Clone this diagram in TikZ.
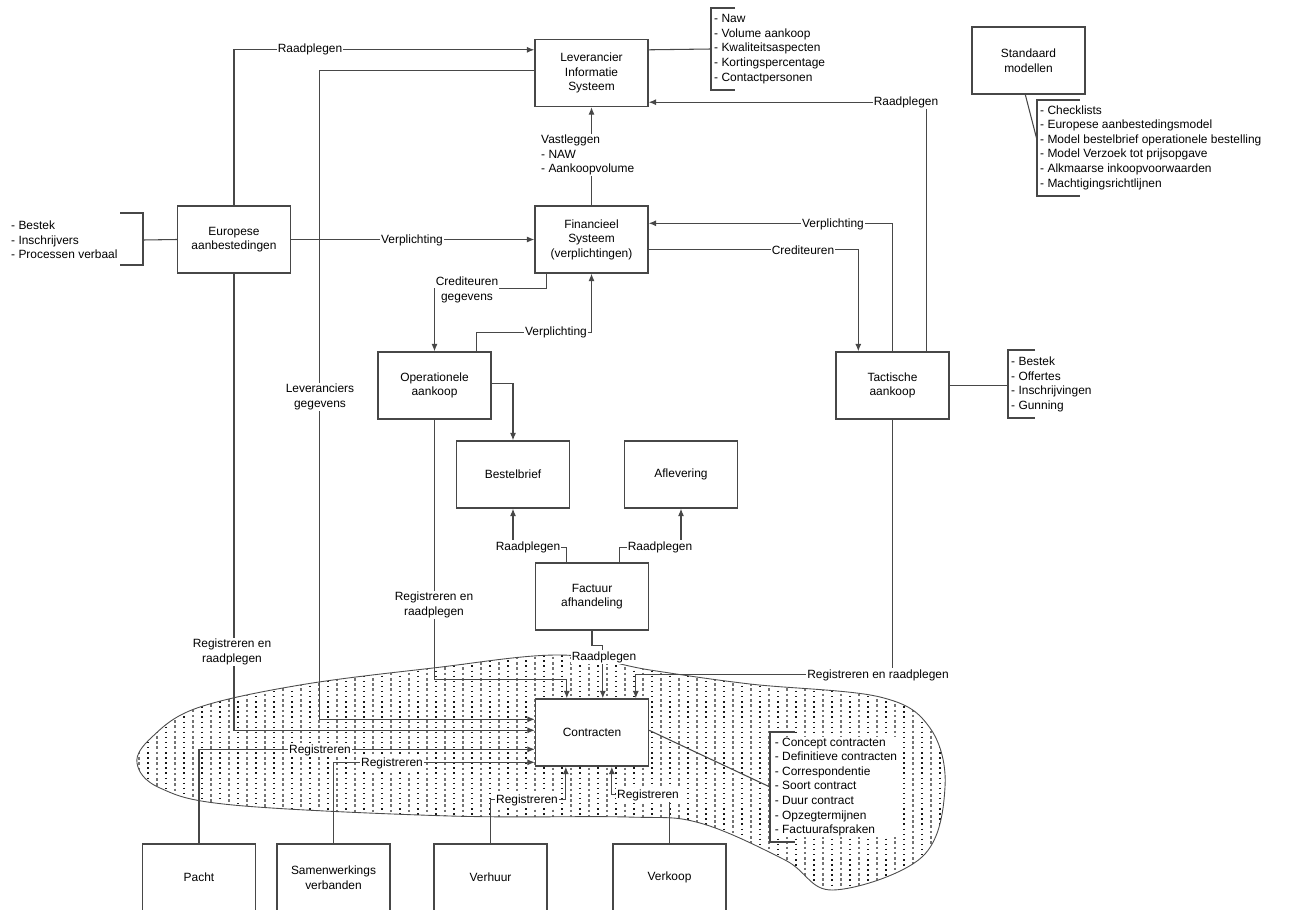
\documentclass[tikz,border=0pt]{standalone}
\usepackage{fontspec}
\setmainfont{Liberation Sans}
\usetikzlibrary{arrows.meta,calc}
\begin{document}
\begin{tikzpicture}[x=0.02cm,y=-0.02cm,
  font=\fontsize{6.8}{8.3}\selectfont,
  ln/.style={draw=black!72,line width=0.6pt},
  arr/.style={ln,-{Latex[length=4.2pt,width=3.4pt]}},
  box/.style={draw=black!72,line width=0.8pt,fill=white,minimum width=2.26cm,
    minimum height=1.34cm,align=center,inner sep=1pt},
  lab/.style={fill=white,inner sep=0.6pt,align=center},
  lst/.style={anchor=west,align=left,inner sep=0.5pt},
  brk/.style={draw=black!72,line width=0.7pt},
  dotcol/.style={black!90,line width=0.8pt,dash pattern=on 0.8pt off 2.1pt},
  markcol/.style={black!55,line width=0.6pt,dash pattern=on 1.5pt off 1.5pt}]
\useasboundingbox (0,0) rectangle (1290,909);

% hatched area round the contract register
\begin{scope}
  \clip plot[smooth cycle,tension=0.6] coordinates {(137,763) (152,737) (197,708)
    (300,685) (433,668) (560,655) (650,670) (750,684) (880,697) (930,728) (945,787)
    (922,857) (833,890) (785,860) (700,823) (627,817) (450,816) (233,805) (160,788)};
  \foreach \x in {130,148,...,950} {
    \draw[dotcol] (\x,640) -- (\x,900);
    \draw[markcol] (\x+9,641) -- (\x+9,900);
  }
\end{scope}
\draw[black!70,line width=0.5pt] plot[smooth cycle,tension=0.6] coordinates {(137,763) (152,737) (197,708)
    (300,685) (433,668) (560,655) (650,670) (750,684) (880,697) (930,728) (945,787)
    (922,857) (833,890) (785,860) (700,823) (627,817) (450,816) (233,805) (160,788)};

% boxes
\node[box] (lis) at (591.5,73) {Leverancier\\Informatie\\Systeem};
\node[box] (std) at (1028.5,60.5) {Standaard\\modellen};
\node[box] (eur) at (234,239.5) {Europese\\aanbestedingen};
\node[box] (fin) at (591.5,239.5) {Financieel\\Systeem\\(verplichtingen)};
\node[box] (ope) at (434.5,385.5) {Operationele\\aankoop};
\node[box] (tac) at (892.5,385.5) {Tactische\\aankoop};
\node[box] (bes) at (513,474.5) {Bestelbrief};
\node[box] (afl) at (681,474.5) {Aflevering};
\node[box] (fac) at (592,596.5) {Factuur\\afhandeling};
\node[box] (con) at (592,732.5) {Contracten};
\node[box] (pacht) at (199,877.5) {Pacht};
\node[box] (sam) at (333.5,877.5) {Samenwerkings\\verbanden};
\node[box] (ver) at (490.5,877.5) {Verhuur};
\node[box] (vko) at (669.5,877.5) {Verkoop};

% connectors
\draw[arr] (eur.north) |- ($(lis.north west)+(0,11)$);
\draw[arr] ($(lis.north west)+(0,32)$) -- ++(-215,0) |- ($(con.north west)+(0,21)$);
\draw[arr] (eur.east) -- (fin.west);
\draw[arr] (eur.south) |- ($(con.north west)+(0,32)$);
\draw[arr] (pacht.north) |- ($(con.north west)+(0,51)$);
\draw[arr] (sam.north) |- ($(con.north west)+(0,64)$);
\draw[arr] (ver.north) -- ++(0,-44) -| ($(con.south west)+(31,0)$);
\draw[arr] (vko.north) -- ++(0,-49) -| ($(con.south west)+(77,0)$);
\draw[arr] (ope.south) |- ($(con.north west)+(32,-19)$) -- ($(con.north west)+(32,0)$);
\draw[arr] (fac.south) -- ++(0,15) -| ($(con.north west)+(68,0)$);
\draw[arr] (tac.south) |- ($(con.north west)+(101,-24)$) -- ($(con.north west)+(101,0)$);
\draw[arr] ($(fin.south west)+(12,0)$) -- ++(0,15) -| (ope.north);
\draw[arr] ($(ope.north west)+(99,0)$) |- ($(fin.south)+(0,59)$) -- (fin.south);
\draw[arr] ($(ope.north east)+(0,32)$) -| (bes.north);
\draw[arr] ($(fac.north west)+(32,0)$) |- ($(bes.south)+(0,39)$) -- (bes.south);
\draw[arr] ($(fac.north west)+(85,0)$) |- ($(afl.south)+(0,39)$) -- (afl.south);
\draw[arr] (fin.north) -- (lis.south);
\draw[arr] ($(tac.north west)+(91,0)$) |- ($(lis.south east)+(0,-5)$);
\draw[arr] ($(tac.north west)+(57,0)$) |- ($(fin.north east)+(0,18)$);
\draw[arr] ($(fin.north east)+(0,44)$) -| ($(tac.north west)+(23,0)$);

% attribute lists
\node[lst] (eurlist) at (10,240) {- Bestek\\- Inschrijvers\\- Processen verbaal};
\node[lst] (lislist) at (713,49) {- Naw\\- Volume aankoop\\- Kwaliteitsaspecten\\- Kortingspercentage\\- Contactpersonen};
\node[lst] (stdlist) at (1039,147.5) {- Checklists\\- Europese aanbestedingsmodel\\- Model bestelbrief operationele bestelling\\- Model Verzoek tot prijsopgave\\- Alkmaarse inkoopvoorwaarden\\- Machtigingsrichtlijnen};
\node[lst] (taclist) at (1010,384.5) {- Bestek\\- Offertes\\- Inschrijvingen\\- Gunning};
\node[lst,fill=white,inner xsep=2pt] (conlist) at (771,787) {- Concept contracten\\- Definitieve contracten\\- Correspondentie\\- Soort contract\\- Duur contract\\- Opzegtermijnen\\- Factuurafspraken};

% brackets
\coordinate (eurbk) at (143,240);
\draw[ln] (eur.west) -- (eurbk);
\draw[brk] (120,213) -- (143,213) -- (143,265) -- (120,265);
\coordinate (lisbk) at (711,49);
\draw[ln] ($(lis.north east)+(0,11)$) -- (lisbk);
\draw[brk] (735,8) -- (711,8) -- (711,90) -- (735,90);
\coordinate (stdbk) at (1037,140);
\draw[ln] ($(std.south west)+(54,0)$) -- (stdbk);
\draw[brk] (1080,100) -- (1037,100) -- (1037,196) -- (1080,196);
\coordinate (tacbk) at (1008,385.5);
\draw[ln] (tac.east) -- (tacbk);
\draw[brk] (1035,350) -- (1008,350) -- (1008,418) -- (1035,418);
\coordinate (conbk) at (770,787);
\draw[ln] ($(con.north east)+(0,32)$) -- (conbk);
\draw[brk] (795,732) -- (770,732) -- (770,842) -- (795,842);

% connector labels
\node[lab] (l1) at (310,49) {Raadplegen};
\node[lab] (l2) at (320,397) {Leveranciers\\gegevens};
\node[lab] (l3) at (412,240) {Verplichting};
\node[lab] (l4) at (232,652) {Registreren en\\raadplegen};
\node[lab] (l5) at (320,750) {Registreren};
\node[lab] (l6) at (392,763) {Registreren};
\node[lab] (l7) at (527,800) {Registreren};
\node[lab] (l8) at (648,795) {Registreren};
\node[lab] (l9) at (434,605) {Registreren en\\raadplegen};
\node[lab] (l10) at (604,657) {Raadplegen};
\node[lab] (l11) at (878,675) {Registreren en raadplegen};
\node[lab] (l12) at (467,290) {Crediteuren\\gegevens};
\node[lab] (l13) at (556,332) {Verplichting};
\node[lab] (l14) at (528,547) {Raadplegen};
\node[lab] (l15) at (660,547) {Raadplegen};
\node[lst,fill=white] (l16) at (540,155) {Vastleggen\\- NAW\\- Aankoopvolume};
\node[lab] (l17) at (906,102) {Raadplegen};
\node[lab] (l18) at (833,224) {Verplichting};
\node[lab] (l19) at (803,250) {Crediteuren};
\end{tikzpicture}
\end{document}
